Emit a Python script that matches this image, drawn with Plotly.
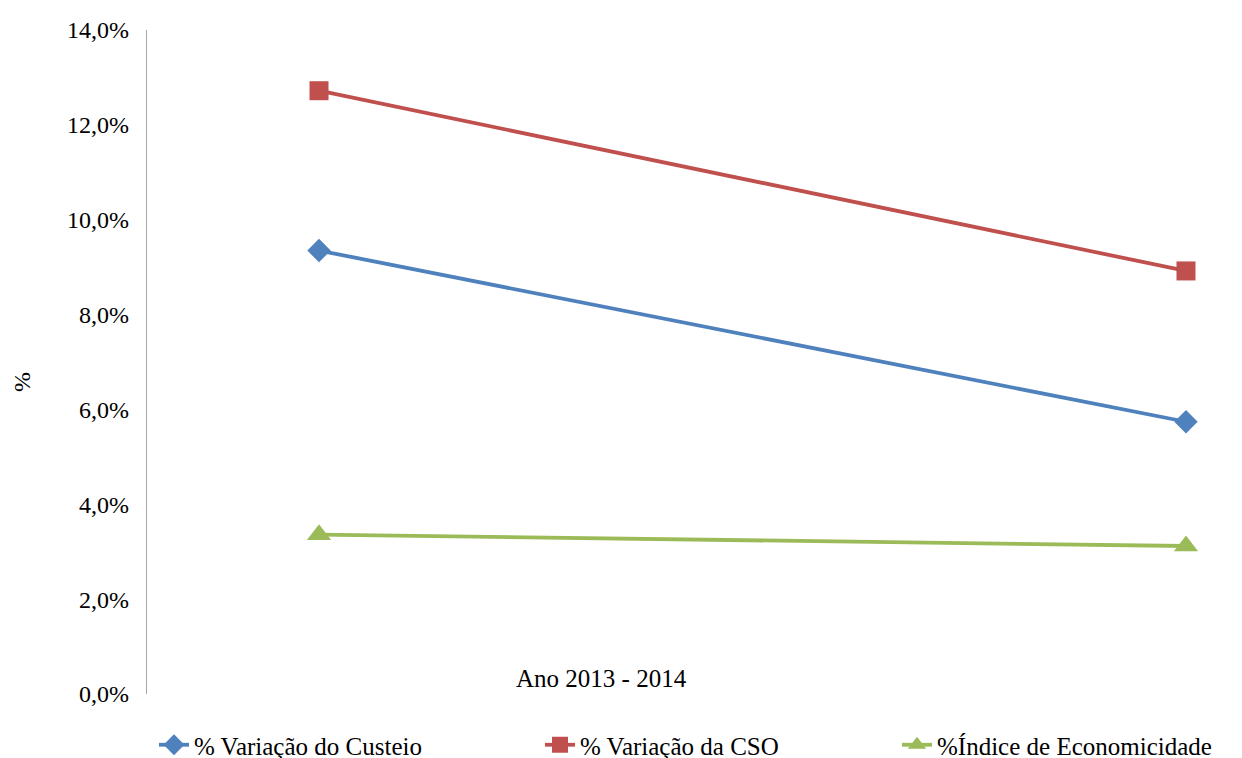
import plotly.graph_objects as go

years = [2013, 2014]
x_pos = [0, 1]
custeio = [9.35, 5.74]
cso = [12.72, 8.92]
economicidade = [3.36, 3.12]
names = ["% Variação do Custeio", "% Variação da CSO", "%Índice de Economicidade"]
colors = ["#4F81BD", "#C0504D", "#9BBB59"]
symbols = ["diamond", "square", "triangle-up"]
msizes = [18, 19, 21]
y_ticks = [0, 2, 4, 6, 8, 10, 12, 14]
y_ticktext = ["0,0%", "2,0%", "4,0%", "6,0%", "8,0%", "10,0%", "12,0%", "14,0%"]

FONT = "Liberation Serif"
FS = 24
L, R, T, B = 147, 2, 30, 64
W, H = 1242, 758
pw = W - L - R
ph = H - T - B

fig = go.Figure()
series = [custeio, cso, economicidade]
legend_ids = ["legend", "legend2", "legend3"]
legend_x_px = [154, 540, 897]
for i, s in enumerate(series):
    fig.add_trace(go.Scatter(
        x=x_pos, y=s, name=names[i], mode="lines+markers",
        line=dict(color=colors[i], width=3.8),
        marker=dict(symbol=symbols[i], size=msizes[i], color=colors[i]),
        legend=legend_ids[i],
    ))

legends = {}
for i, lid in enumerate(legend_ids):
    legends[lid] = dict(
        x=legend_x_px[i] / W, y=1 - 745 / H, xref="container", yref="container",
        xanchor="left", yanchor="middle",
        orientation="h", font=dict(family=FONT, size=25, color="#000"),
        bgcolor="rgba(0,0,0,0)",
    )

fig.update_layout(
    width=W, height=H,
    margin=dict(l=L, r=R, t=T, b=B),
    paper_bgcolor="white", plot_bgcolor="white",
    showlegend=True,
    font=dict(family=FONT, size=FS, color="#000"),
    xaxis=dict(range=[-0.1984, 1.0623], showgrid=False, zeroline=False,
               showline=False, showticklabels=False, ticks=""),
    yaxis=dict(range=[0, 14], tickvals=y_ticks, ticktext=y_ticktext,
               showgrid=False, zeroline=False, showline=True, linecolor="#A6A6A6",
               linewidth=1.3, ticks="", ticklabelstandoff=12,
               tickfont=dict(family=FONT, size=FS, color="#000")),
    **legends,
)

fig.add_annotation(text="%", xref="paper", yref="paper", xanchor="center", yanchor="middle",
                   x=(22 - L) / pw, y=(694 - 382) / ph, textangle=-90,
                   showarrow=False, font=dict(family=FONT, size=FS, color="#000"))
fig.add_annotation(text=f"Ano {years[0]} - {years[1]}", xref="paper", yref="paper",
                   xanchor="center", yanchor="middle",
                   x=(601 - L) / pw, y=(694 - 678) / ph, showarrow=False,
                   font=dict(family=FONT, size=25, color="#000"))

fig.write_html("out.html")
